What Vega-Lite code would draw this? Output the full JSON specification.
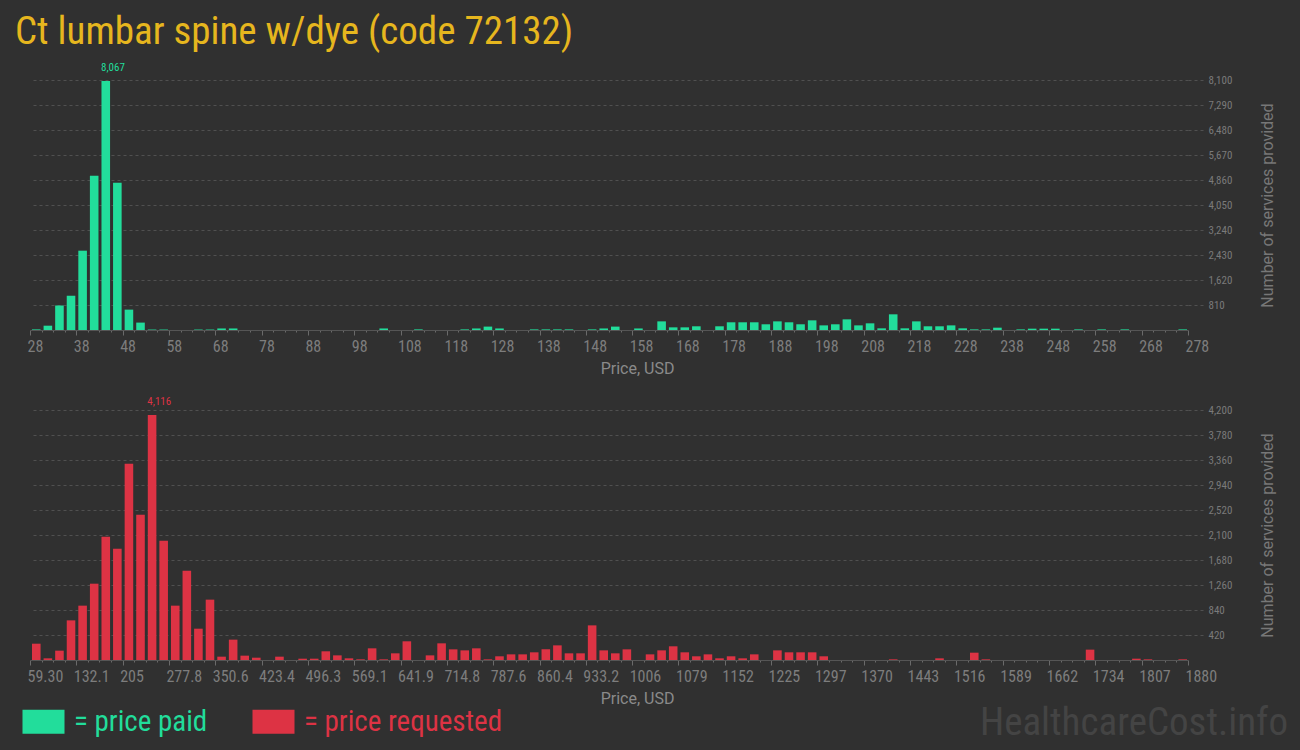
{
  "$schema": "https://vega.github.io/schema/vega-lite/v6.json",
  "background": "#303030",
  "padding": {"left": 15, "top": 13, "right": 13, "bottom": 12},
  "title": {"text": "Ct lumbar spine w/dye (code 72132)", "anchor": "start", "frame": "group", "dx": -15, "font": "Roboto Condensed", "fontSize": 39, "fontWeight": "normal", "color": "#e6b61e", "offset": 10},
  "config": {
    "view": {"stroke": null},
    "axis": {"labelFont": "Roboto Condensed", "titleFont": "Roboto", "titleFontWeight": "normal"}
  },
  "datasets": {
    "paid": [
      {"type": "paid", "lo": 28, "hi": 30.5, "n": 20},
      {"type": "paid", "lo": 30.5, "hi": 33, "n": 140},
      {"type": "paid", "lo": 33, "hi": 35.5, "n": 790},
      {"type": "paid", "lo": 35.5, "hi": 38, "n": 1110},
      {"type": "paid", "lo": 38, "hi": 40.5, "n": 2570},
      {"type": "paid", "lo": 40.5, "hi": 43, "n": 5000},
      {"type": "paid", "lo": 43, "hi": 45.5, "n": 8067},
      {"type": "paid", "lo": 45.5, "hi": 48, "n": 4770},
      {"type": "paid", "lo": 48, "hi": 50.5, "n": 660},
      {"type": "paid", "lo": 50.5, "hi": 53, "n": 240},
      {"type": "paid", "lo": 53, "hi": 55.5, "n": 15},
      {"type": "paid", "lo": 55.5, "hi": 58, "n": 15},
      {"type": "paid", "lo": 63, "hi": 65.5, "n": 15},
      {"type": "paid", "lo": 65.5, "hi": 68, "n": 15},
      {"type": "paid", "lo": 68, "hi": 70.5, "n": 50},
      {"type": "paid", "lo": 70.5, "hi": 73, "n": 50},
      {"type": "paid", "lo": 103, "hi": 105.5, "n": 50},
      {"type": "paid", "lo": 110.5, "hi": 113, "n": 20},
      {"type": "paid", "lo": 120.5, "hi": 123, "n": 20},
      {"type": "paid", "lo": 123, "hi": 125.5, "n": 50},
      {"type": "paid", "lo": 125.5, "hi": 128, "n": 110},
      {"type": "paid", "lo": 128, "hi": 130.5, "n": 50},
      {"type": "paid", "lo": 135.5, "hi": 138, "n": 20},
      {"type": "paid", "lo": 138, "hi": 140.5, "n": 20},
      {"type": "paid", "lo": 140.5, "hi": 143, "n": 20},
      {"type": "paid", "lo": 143, "hi": 145.5, "n": 20},
      {"type": "paid", "lo": 148, "hi": 150.5, "n": 20},
      {"type": "paid", "lo": 150.5, "hi": 153, "n": 50},
      {"type": "paid", "lo": 153, "hi": 155.5, "n": 110},
      {"type": "paid", "lo": 158, "hi": 160.5, "n": 50},
      {"type": "paid", "lo": 163, "hi": 165.5, "n": 280},
      {"type": "paid", "lo": 165.5, "hi": 168, "n": 86},
      {"type": "paid", "lo": 168, "hi": 170.5, "n": 86},
      {"type": "paid", "lo": 170.5, "hi": 173, "n": 120},
      {"type": "paid", "lo": 175.5, "hi": 178, "n": 120},
      {"type": "paid", "lo": 178, "hi": 180.5, "n": 250},
      {"type": "paid", "lo": 180.5, "hi": 183, "n": 250},
      {"type": "paid", "lo": 183, "hi": 185.5, "n": 250},
      {"type": "paid", "lo": 185.5, "hi": 188, "n": 185},
      {"type": "paid", "lo": 188, "hi": 190.5, "n": 280},
      {"type": "paid", "lo": 190.5, "hi": 193, "n": 250},
      {"type": "paid", "lo": 193, "hi": 195.5, "n": 185},
      {"type": "paid", "lo": 195.5, "hi": 198, "n": 313},
      {"type": "paid", "lo": 198, "hi": 200.5, "n": 150},
      {"type": "paid", "lo": 200.5, "hi": 203, "n": 185},
      {"type": "paid", "lo": 203, "hi": 205.5, "n": 345},
      {"type": "paid", "lo": 205.5, "hi": 208, "n": 150},
      {"type": "paid", "lo": 208, "hi": 210.5, "n": 216},
      {"type": "paid", "lo": 210.5, "hi": 213, "n": 54},
      {"type": "paid", "lo": 213, "hi": 215.5, "n": 508},
      {"type": "paid", "lo": 215.5, "hi": 218, "n": 54},
      {"type": "paid", "lo": 218, "hi": 220.5, "n": 280},
      {"type": "paid", "lo": 220.5, "hi": 223, "n": 120},
      {"type": "paid", "lo": 223, "hi": 225.5, "n": 120},
      {"type": "paid", "lo": 225.5, "hi": 228, "n": 150},
      {"type": "paid", "lo": 228, "hi": 230.5, "n": 54},
      {"type": "paid", "lo": 230.5, "hi": 233, "n": 20},
      {"type": "paid", "lo": 233, "hi": 235.5, "n": 20},
      {"type": "paid", "lo": 235.5, "hi": 238, "n": 75},
      {"type": "paid", "lo": 240.5, "hi": 243, "n": 20},
      {"type": "paid", "lo": 243, "hi": 245.5, "n": 43},
      {"type": "paid", "lo": 245.5, "hi": 248, "n": 43},
      {"type": "paid", "lo": 248, "hi": 250.5, "n": 43},
      {"type": "paid", "lo": 253, "hi": 255.5, "n": 20},
      {"type": "paid", "lo": 258, "hi": 260.5, "n": 20},
      {"type": "paid", "lo": 263, "hi": 265.5, "n": 20},
      {"type": "paid", "lo": 275.5, "hi": 278, "n": 20}
    ],
    "requested": [
      {"type": "requested", "lo": 59.3, "hi": 77.51, "n": 274},
      {"type": "requested", "lo": 77.51, "hi": 95.71, "n": 28},
      {"type": "requested", "lo": 95.71, "hi": 113.92, "n": 157},
      {"type": "requested", "lo": 113.92, "hi": 132.13, "n": 666},
      {"type": "requested", "lo": 132.13, "hi": 150.34, "n": 913},
      {"type": "requested", "lo": 150.34, "hi": 168.54, "n": 1282},
      {"type": "requested", "lo": 168.54, "hi": 186.75, "n": 2072},
      {"type": "requested", "lo": 186.75, "hi": 204.96, "n": 1870},
      {"type": "requested", "lo": 204.96, "hi": 223.16, "n": 3298},
      {"type": "requested", "lo": 223.16, "hi": 241.37, "n": 2442},
      {"type": "requested", "lo": 241.37, "hi": 259.58, "n": 4116},
      {"type": "requested", "lo": 259.58, "hi": 277.78, "n": 2005},
      {"type": "requested", "lo": 277.78, "hi": 295.99, "n": 913},
      {"type": "requested", "lo": 295.99, "hi": 314.2, "n": 1500},
      {"type": "requested", "lo": 314.2, "hi": 332.41, "n": 526},
      {"type": "requested", "lo": 332.41, "hi": 350.61, "n": 1014},
      {"type": "requested", "lo": 350.61, "hi": 368.82, "n": 56},
      {"type": "requested", "lo": 368.82, "hi": 387.03, "n": 342},
      {"type": "requested", "lo": 387.03, "hi": 405.23, "n": 73},
      {"type": "requested", "lo": 405.23, "hi": 423.44, "n": 39},
      {"type": "requested", "lo": 441.65, "hi": 459.85, "n": 56},
      {"type": "requested", "lo": 478.06, "hi": 496.27, "n": 22},
      {"type": "requested", "lo": 496.27, "hi": 514.48, "n": 22},
      {"type": "requested", "lo": 514.48, "hi": 532.68, "n": 146},
      {"type": "requested", "lo": 532.68, "hi": 550.89, "n": 78},
      {"type": "requested", "lo": 550.89, "hi": 569.1, "n": 28},
      {"type": "requested", "lo": 569.1, "hi": 587.3, "n": 11},
      {"type": "requested", "lo": 587.3, "hi": 605.51, "n": 196},
      {"type": "requested", "lo": 605.51, "hi": 623.72, "n": 11},
      {"type": "requested", "lo": 623.72, "hi": 641.92, "n": 112},
      {"type": "requested", "lo": 641.92, "hi": 660.13, "n": 314},
      {"type": "requested", "lo": 678.34, "hi": 696.55, "n": 78},
      {"type": "requested", "lo": 696.55, "hi": 714.75, "n": 280},
      {"type": "requested", "lo": 714.75, "hi": 732.96, "n": 179},
      {"type": "requested", "lo": 732.96, "hi": 751.17, "n": 162},
      {"type": "requested", "lo": 751.17, "hi": 769.37, "n": 196},
      {"type": "requested", "lo": 769.37, "hi": 787.58, "n": 11},
      {"type": "requested", "lo": 787.58, "hi": 805.79, "n": 62},
      {"type": "requested", "lo": 805.79, "hi": 823.99, "n": 95},
      {"type": "requested", "lo": 823.99, "hi": 842.2, "n": 95},
      {"type": "requested", "lo": 842.2, "hi": 860.41, "n": 129},
      {"type": "requested", "lo": 860.41, "hi": 878.62, "n": 179},
      {"type": "requested", "lo": 878.62, "hi": 896.82, "n": 246},
      {"type": "requested", "lo": 896.82, "hi": 915.03, "n": 112},
      {"type": "requested", "lo": 915.03, "hi": 933.24, "n": 112},
      {"type": "requested", "lo": 933.24, "hi": 951.44, "n": 582},
      {"type": "requested", "lo": 951.44, "hi": 969.65, "n": 162},
      {"type": "requested", "lo": 969.65, "hi": 987.86, "n": 112},
      {"type": "requested", "lo": 987.86, "hi": 1006.06, "n": 179},
      {"type": "requested", "lo": 1024.27, "hi": 1042.48, "n": 95},
      {"type": "requested", "lo": 1042.48, "hi": 1060.69, "n": 162},
      {"type": "requested", "lo": 1060.69, "hi": 1078.89, "n": 230},
      {"type": "requested", "lo": 1078.89, "hi": 1097.1, "n": 129},
      {"type": "requested", "lo": 1097.1, "hi": 1115.31, "n": 62},
      {"type": "requested", "lo": 1115.31, "hi": 1133.51, "n": 95},
      {"type": "requested", "lo": 1133.51, "hi": 1151.72, "n": 28},
      {"type": "requested", "lo": 1151.72, "hi": 1169.93, "n": 62},
      {"type": "requested", "lo": 1169.93, "hi": 1188.13, "n": 28},
      {"type": "requested", "lo": 1188.13, "hi": 1206.34, "n": 95},
      {"type": "requested", "lo": 1224.55, "hi": 1242.76, "n": 162},
      {"type": "requested", "lo": 1242.76, "hi": 1260.96, "n": 129},
      {"type": "requested", "lo": 1260.96, "hi": 1279.17, "n": 129},
      {"type": "requested", "lo": 1279.17, "hi": 1297.38, "n": 129},
      {"type": "requested", "lo": 1297.38, "hi": 1315.58, "n": 62},
      {"type": "requested", "lo": 1406.62, "hi": 1424.83, "n": 11},
      {"type": "requested", "lo": 1479.45, "hi": 1497.65, "n": 28},
      {"type": "requested", "lo": 1534.07, "hi": 1552.27, "n": 123},
      {"type": "requested", "lo": 1552.27, "hi": 1570.48, "n": 11},
      {"type": "requested", "lo": 1716.14, "hi": 1734.34, "n": 174},
      {"type": "requested", "lo": 1788.97, "hi": 1807.17, "n": 22},
      {"type": "requested", "lo": 1807.17, "hi": 1825.38, "n": 11},
      {"type": "requested", "lo": 1861.79, "hi": 1880, "n": 11}
    ]
  },
  "vconcat": [
    {
      "width": 1158,
      "height": 250,
      "data": {"name": "paid"},
      "layer": [
        {
          "mark": {"type": "bar", "binSpacing": 3},
          "encoding": {
            "x": {"field": "lo", "type": "quantitative", "bin": {"binned": true},
              "scale": {"domain": [28, 278], "nice": false, "zero": false},
              "axis": {
                "values": [28, 30.5, 33, 35.5, 38, 40.5, 43, 45.5, 48, 50.5, 53, 55.5, 58, 60.5, 63, 65.5, 68, 70.5, 73, 75.5, 78, 80.5, 83, 85.5, 88, 90.5, 93, 95.5, 98, 100.5, 103, 105.5, 108, 110.5, 113, 115.5, 118, 120.5, 123, 125.5, 128, 130.5, 133, 135.5, 138, 140.5, 143, 145.5, 148, 150.5, 153, 155.5, 158, 160.5, 163, 165.5, 168, 170.5, 173, 175.5, 178, 180.5, 183, 185.5, 188, 190.5, 193, 195.5, 198, 200.5, 203, 205.5, 208, 210.5, 213, 215.5, 218, 220.5, 223, 225.5, 228, 230.5, 233, 235.5, 238, 240.5, 243, 245.5, 248, 250.5, 253, 255.5, 258, 260.5, 263, 265.5, 268, 270.5, 273, 275.5, 278],
                "labelExpr": "round((datum.value - 28) / 2.5) % 4 == 0 ? format(datum.value, 'd') : ''",
                "tickSize": {"condition": {"test": "round((datum.value - 28) / 2.5) % 4 == 0", "value": 5}, "value": 2},
                "tickColor": "#6a6a6a", "domainColor": "#555555", "grid": false,
                "labelAlign": "left", "labelOffset": -3, "labelPadding": 3, "labelFlush": false, "labelOverlap": false,
                "labelFontSize": 16, "labelColor": "#7d7d7d",
                "title": "Price, USD", "titleFontSize": 16, "titleColor": "#8a8a8a", "titleX": 607, "titlePadding": 6
              }
            },
            "x2": {"field": "hi"},
            "y": {"field": "n", "type": "quantitative",
              "scale": {"domain": [0, 8100], "nice": false},
              "axis": {
                "orient": "right",
                "values": [810, 1620, 2430, 3240, 4050, 4860, 5670, 6480, 7290, 8100],
                "format": ",d", "labelOverlap": false,
                "grid": true, "gridColor": "#505050", "gridDash": [3, 3],
                "tickSize": 17, "tickColor": "#505050", "tickDash": [3, 3],
                "domain": false,
                "labelAlign": "left", "labelPadding": 3, "labelFontSize": 11, "labelColor": "#7a7a7a",
                "title": "Number of services provided", "titleAngle": 270, "titleFontSize": 16, "titleColor": "#777777", "titlePadding": 44
              }
            },
            "color": {"field": "type", "type": "nominal",
              "scale": {"domain": ["paid", "requested"], "range": ["#22dd9b", "#dd3344"]},
              "legend": {
                "orient": "none", "legendX": -1, "legendY": 627, "direction": "horizontal", "title": null,
                "symbolType": "M-1.75,-1H1.75V1H-1.75Z", "symbolSize": 576, "symbolStrokeWidth": 0, "symbolOpacity": 1,
                "labelFont": "Roboto Condensed", "labelFontSize": 29, "labelOffset": 16, "labelLimit": 0, "columnPadding": 44,
                "labelExpr": "'= price ' + datum.label",
                "encode": {"labels": {"update": {"fill": {"signal": "datum.value === 'paid' ? '#22dd9b' : '#dd3344'"}}}}
              }
            }
          }
        },
        {
          "transform": [{"joinaggregate": [{"op": "max", "field": "n", "as": "mx"}]}, {"filter": "datum.n === datum.mx"}],
          "mark": {"type": "text", "align": "left", "baseline": "bottom", "dx": 1.5, "dy": -8, "fontSize": 11, "font": "Roboto Condensed", "color": "#22dd9b"},
          "encoding": {
            "x": {"field": "lo", "type": "quantitative",
              "scale": {"domain": [28, 278], "nice": false, "zero": false},
              "axis": {
                "values": [28, 30.5, 33, 35.5, 38, 40.5, 43, 45.5, 48, 50.5, 53, 55.5, 58, 60.5, 63, 65.5, 68, 70.5, 73, 75.5, 78, 80.5, 83, 85.5, 88, 90.5, 93, 95.5, 98, 100.5, 103, 105.5, 108, 110.5, 113, 115.5, 118, 120.5, 123, 125.5, 128, 130.5, 133, 135.5, 138, 140.5, 143, 145.5, 148, 150.5, 153, 155.5, 158, 160.5, 163, 165.5, 168, 170.5, 173, 175.5, 178, 180.5, 183, 185.5, 188, 190.5, 193, 195.5, 198, 200.5, 203, 205.5, 208, 210.5, 213, 215.5, 218, 220.5, 223, 225.5, 228, 230.5, 233, 235.5, 238, 240.5, 243, 245.5, 248, 250.5, 253, 255.5, 258, 260.5, 263, 265.5, 268, 270.5, 273, 275.5, 278],
                "labelExpr": "round((datum.value - 28) / 2.5) % 4 == 0 ? format(datum.value, 'd') : ''",
                "tickSize": {"condition": {"test": "round((datum.value - 28) / 2.5) % 4 == 0", "value": 5}, "value": 2},
                "tickColor": "#6a6a6a", "domainColor": "#555555", "grid": false,
                "labelAlign": "left", "labelOffset": -3, "labelPadding": 3, "labelFlush": false, "labelOverlap": false,
                "labelFontSize": 16, "labelColor": "#7d7d7d",
                "title": "Price, USD", "titleFontSize": 16, "titleColor": "#8a8a8a", "titleX": 607, "titlePadding": 6
              }
            },
            "y": {"field": "n", "type": "quantitative",
              "scale": {"domain": [0, 8100], "nice": false},
              "axis": {
                "orient": "right",
                "values": [810, 1620, 2430, 3240, 4050, 4860, 5670, 6480, 7290, 8100],
                "format": ",d", "labelOverlap": false,
                "grid": true, "gridColor": "#505050", "gridDash": [3, 3],
                "tickSize": 17, "tickColor": "#505050", "tickDash": [3, 3],
                "domain": false,
                "labelAlign": "left", "labelPadding": 3, "labelFontSize": 11, "labelColor": "#7a7a7a",
                "title": "Number of services provided", "titleAngle": 270, "titleFontSize": 16, "titleColor": "#777777", "titlePadding": 44
              }
            },
            "text": {"field": "n", "type": "quantitative", "format": ","}
          }
        }
      ]
    },
    {
      "width": 1158,
      "height": 250,
      "data": {"name": "requested"},
      "title": {"text": "HealthcareCost.info", "orient": "bottom", "anchor": "end", "frame": "group", "dx": 100, "offset": -2, "font": "Roboto Condensed", "fontSize": 39, "fontWeight": "normal", "color": "#444444"},
      "layer": [
        {
          "mark": {"type": "bar", "binSpacing": 3},
          "encoding": {
            "x": {"field": "lo", "type": "quantitative", "bin": {"binned": true},
              "scale": {"domain": [59.3, 1880], "nice": false, "zero": false},
              "axis": {
                "values": [59.3, 77.51, 95.71, 113.92, 132.13, 150.34, 168.54, 186.75, 204.96, 223.16, 241.37, 259.58, 277.78, 295.99, 314.2, 332.41, 350.61, 368.82, 387.03, 405.23, 423.44, 441.65, 459.85, 478.06, 496.27, 514.48, 532.68, 550.89, 569.1, 587.3, 605.51, 623.72, 641.92, 660.13, 678.34, 696.55, 714.75, 732.96, 751.17, 769.37, 787.58, 805.79, 823.99, 842.2, 860.41, 878.62, 896.82, 915.03, 933.24, 951.44, 969.65, 987.86, 1006.06, 1024.27, 1042.48, 1060.69, 1078.89, 1097.1, 1115.31, 1133.51, 1151.72, 1169.93, 1188.13, 1206.34, 1224.55, 1242.76, 1260.96, 1279.17, 1297.38, 1315.58, 1333.79, 1352, 1370.2, 1388.41, 1406.62, 1424.83, 1443.03, 1461.24, 1479.45, 1497.65, 1515.86, 1534.07, 1552.27, 1570.48, 1588.69, 1606.9, 1625.1, 1643.31, 1661.52, 1679.72, 1697.93, 1716.14, 1734.34, 1752.55, 1770.76, 1788.97, 1807.17, 1825.38, 1843.59, 1861.79, 1880],
                "labelExpr": "round((datum.value - 59.3) / 18.207) % 4 != 0 ? '' : datum.value < 60 ? '59.30' : format(datum.value, '.4')",
                "tickSize": {"condition": {"test": "round((datum.value - 59.3) / 18.207) % 4 == 0", "value": 5}, "value": 2},
                "tickColor": "#6a6a6a", "domainColor": "#555555", "grid": false,
                "labelAlign": "left", "labelOffset": -3, "labelPadding": 3, "labelFlush": false, "labelOverlap": false,
                "labelFontSize": 16, "labelColor": "#7d7d7d",
                "title": "Price, USD", "titleFontSize": 16, "titleColor": "#8a8a8a", "titleX": 607, "titlePadding": 6
              }
            },
            "x2": {"field": "hi"},
            "y": {"field": "n", "type": "quantitative",
              "scale": {"domain": [0, 4200], "nice": false},
              "axis": {
                "orient": "right",
                "values": [420, 840, 1260, 1680, 2100, 2520, 2940, 3360, 3780, 4200],
                "format": ",d", "labelOverlap": false,
                "grid": true, "gridColor": "#505050", "gridDash": [3, 3],
                "tickSize": 17, "tickColor": "#505050", "tickDash": [3, 3],
                "domain": false,
                "labelAlign": "left", "labelPadding": 3, "labelFontSize": 11, "labelColor": "#7a7a7a",
                "title": "Number of services provided", "titleAngle": 270, "titleFontSize": 16, "titleColor": "#777777", "titlePadding": 44
              }
            },
            "color": {"field": "type", "type": "nominal"}
          }
        },
        {
          "transform": [{"joinaggregate": [{"op": "max", "field": "n", "as": "mx"}]}, {"filter": "datum.n === datum.mx"}],
          "mark": {"type": "text", "align": "left", "baseline": "bottom", "dx": 1.5, "dy": -8, "fontSize": 11, "font": "Roboto Condensed", "color": "#dd3344"},
          "encoding": {
            "x": {"field": "lo", "type": "quantitative",
              "scale": {"domain": [59.3, 1880], "nice": false, "zero": false},
              "axis": {
                "values": [59.3, 77.51, 95.71, 113.92, 132.13, 150.34, 168.54, 186.75, 204.96, 223.16, 241.37, 259.58, 277.78, 295.99, 314.2, 332.41, 350.61, 368.82, 387.03, 405.23, 423.44, 441.65, 459.85, 478.06, 496.27, 514.48, 532.68, 550.89, 569.1, 587.3, 605.51, 623.72, 641.92, 660.13, 678.34, 696.55, 714.75, 732.96, 751.17, 769.37, 787.58, 805.79, 823.99, 842.2, 860.41, 878.62, 896.82, 915.03, 933.24, 951.44, 969.65, 987.86, 1006.06, 1024.27, 1042.48, 1060.69, 1078.89, 1097.1, 1115.31, 1133.51, 1151.72, 1169.93, 1188.13, 1206.34, 1224.55, 1242.76, 1260.96, 1279.17, 1297.38, 1315.58, 1333.79, 1352, 1370.2, 1388.41, 1406.62, 1424.83, 1443.03, 1461.24, 1479.45, 1497.65, 1515.86, 1534.07, 1552.27, 1570.48, 1588.69, 1606.9, 1625.1, 1643.31, 1661.52, 1679.72, 1697.93, 1716.14, 1734.34, 1752.55, 1770.76, 1788.97, 1807.17, 1825.38, 1843.59, 1861.79, 1880],
                "labelExpr": "round((datum.value - 59.3) / 18.207) % 4 != 0 ? '' : datum.value < 60 ? '59.30' : format(datum.value, '.4')",
                "tickSize": {"condition": {"test": "round((datum.value - 59.3) / 18.207) % 4 == 0", "value": 5}, "value": 2},
                "tickColor": "#6a6a6a", "domainColor": "#555555", "grid": false,
                "labelAlign": "left", "labelOffset": -3, "labelPadding": 3, "labelFlush": false, "labelOverlap": false,
                "labelFontSize": 16, "labelColor": "#7d7d7d",
                "title": "Price, USD", "titleFontSize": 16, "titleColor": "#8a8a8a", "titleX": 607, "titlePadding": 6
              }
            },
            "y": {"field": "n", "type": "quantitative",
              "scale": {"domain": [0, 4200], "nice": false},
              "axis": {
                "orient": "right",
                "values": [420, 840, 1260, 1680, 2100, 2520, 2940, 3360, 3780, 4200],
                "format": ",d", "labelOverlap": false,
                "grid": true, "gridColor": "#505050", "gridDash": [3, 3],
                "tickSize": 17, "tickColor": "#505050", "tickDash": [3, 3],
                "domain": false,
                "labelAlign": "left", "labelPadding": 3, "labelFontSize": 11, "labelColor": "#7a7a7a",
                "title": "Number of services provided", "titleAngle": 270, "titleFontSize": 16, "titleColor": "#777777", "titlePadding": 44
              }
            },
            "text": {"field": "n", "type": "quantitative", "format": ","}
          }
        }
      ]
    }
  ],
  "spacing": 80,
  "bounds": "flush"
}
